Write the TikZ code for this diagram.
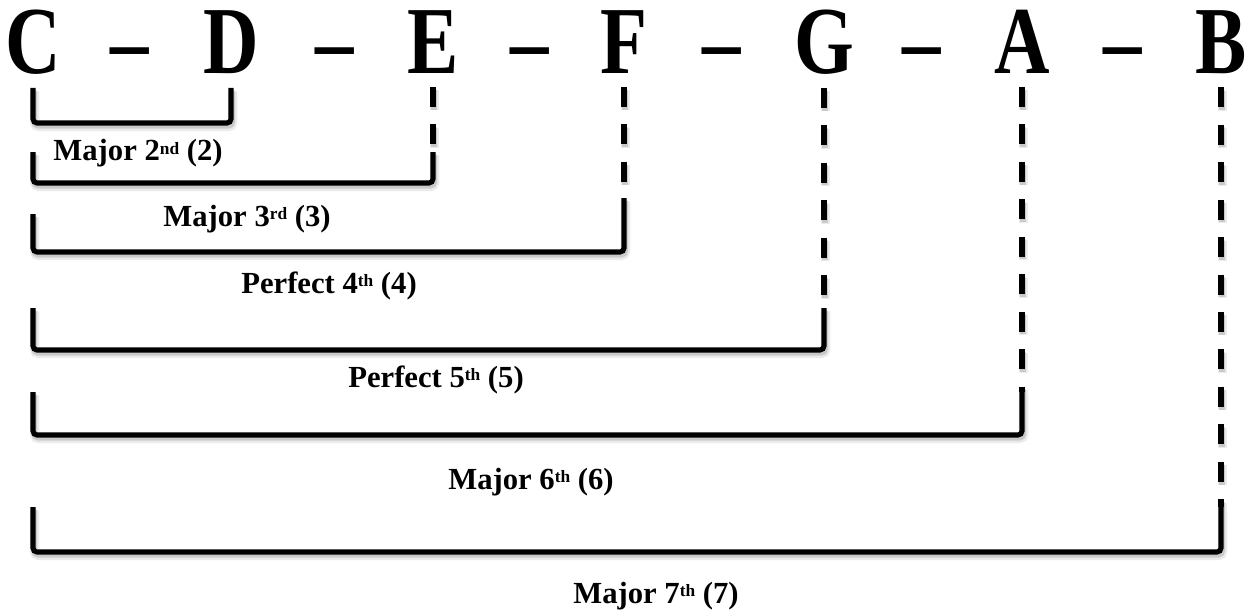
\documentclass[tikz,border=0pt]{standalone}
\usepackage{fontspec}
\setmainfont{Liberation Serif}
\newcommand{\ordsup}[1]{\raisebox{4.6pt}{\fontsize{13}{13}\selectfont #1}}
\begin{document}
\begin{tikzpicture}[x=0.75pt,y=-0.75pt,
  note/.style={font=\fontsize{72}{80}\selectfont\bfseries, inner sep=0pt, anchor=base},
  lbl/.style={font=\fontsize{23}{27}\selectfont\bfseries, inner sep=0pt, anchor=base},
  shade/.style={
    preaction={draw=black, opacity=0.08, line width=7pt, #1,
      transform canvas={shift={(1.2pt,-2.6pt)}}},
    preaction={draw=black, opacity=0.14, line width=4.5pt, #1,
      transform canvas={shift={(0.9pt,-2pt)}}}},
  shade/.default={},
  bracket/.style={shade, draw, line width=3.8pt, rounded corners=3pt},
  guide/.style={shade={dash pattern=on 15pt off 13.1pt}, draw, line width=3.8pt,
    dash pattern=on 15pt off 13.1pt}]
\useasboundingbox (0,0) rectangle (1257,610);

% the seven notes of the scale and the dashes between them
\node[note] (nC) at (33,74)   {\scalebox{0.8}[1]{C}};
\node[note] (s1) at (130,74)  {\scalebox{0.8}[1]{–}};
\node[note] (nD) at (231,74)  {\scalebox{0.8}[1]{D}};
\node[note] (s2) at (335,74)  {\scalebox{0.8}[1]{–}};
\node[note] (nE) at (433,74)  {\scalebox{0.8}[1]{E}};
\node[note] (s3) at (530,74)  {\scalebox{0.8}[1]{–}};
\node[note] (nF) at (624,74)  {\scalebox{0.8}[1]{F}};
\node[note] (s4) at (722,74)  {\scalebox{0.8}[1]{–}};
\node[note] (nG) at (824,74)  {\scalebox{0.8}[1]{G}};
\node[note] (s5) at (922,74)  {\scalebox{0.8}[1]{–}};
\node[note] (nA) at (1022,74) {\scalebox{0.8}[1]{A}};
\node[note] (s6) at (1123,74) {\scalebox{0.8}[1]{–}};
\node[note] (nB) at (1221,74) {\scalebox{0.8}[1]{B}};

% heights of the bracket tops (t) and bottoms (u)
\coordinate (t1) at (0,88);   \coordinate (u1) at (0,123);
\coordinate (t2) at (0,152);  \coordinate (u2) at (0,183);
\coordinate (t3) at (0,214);  \coordinate (t3r) at (0,198); \coordinate (u3) at (0,252);
\coordinate (t4) at (0,308);  \coordinate (u4) at (0,350);
\coordinate (t5) at (0,392);  \coordinate (u5) at (0,435);
\coordinate (t6) at (0,507);  \coordinate (u6) at (0,552);

% dashed guides dropping from each note to its bracket
\draw[guide] ([yshift=-9.5pt]nE.south) -- (nE |- t2);
\draw[guide] ([yshift=-9.5pt]nF.south) -- (nF |- t3r);
\draw[guide] ([yshift=-9.5pt]nG.south) -- (nG |- t4);
\draw[guide] ([yshift=-9.5pt]nA.south) -- (nA |- t5);
\draw[guide] ([yshift=-9.5pt]nB.south) -- (nB |- t6);

% interval brackets
\draw[bracket] (nC |- t1) -- (nC |- u1) -- (nD |- u1) -- (nD |- t1);
\draw[bracket] (nC |- t2) -- (nC |- u2) -- (nE |- u2) -- (nE |- t2);
\draw[bracket] (nC |- t3) -- (nC |- u3) -- (nF |- u3) -- (nF |- t3r);
\draw[bracket] (nC |- t4) -- (nC |- u4) -- (nG |- u4) -- (nG |- t4);
\draw[bracket] (nC |- t5) -- (nC |- u5) -- (nA |- u5) -- (nA |- t5);
\draw[bracket] (nC |- t6) -- (nC |- u6) -- (nB |- u6) -- (nB |- t6);

% interval names
\node[lbl] (i2) at (138,161) {Major 2\ordsup{nd} (2)};
\node[lbl] (i3) at (247,226) {Major 3\ordsup{rd} (3)};
\node[lbl] (i4) at (329,293) {Perfect 4\ordsup{th} (4)};
\node[lbl] (i5) at (436,387) {Perfect 5\ordsup{th} (5)};
\node[lbl] (i6) at (531,489) {Major 6\ordsup{th} (6)};
\node[lbl] (i7) at (656,603) {Major 7\ordsup{th} (7)};
\end{tikzpicture}
\end{document}
